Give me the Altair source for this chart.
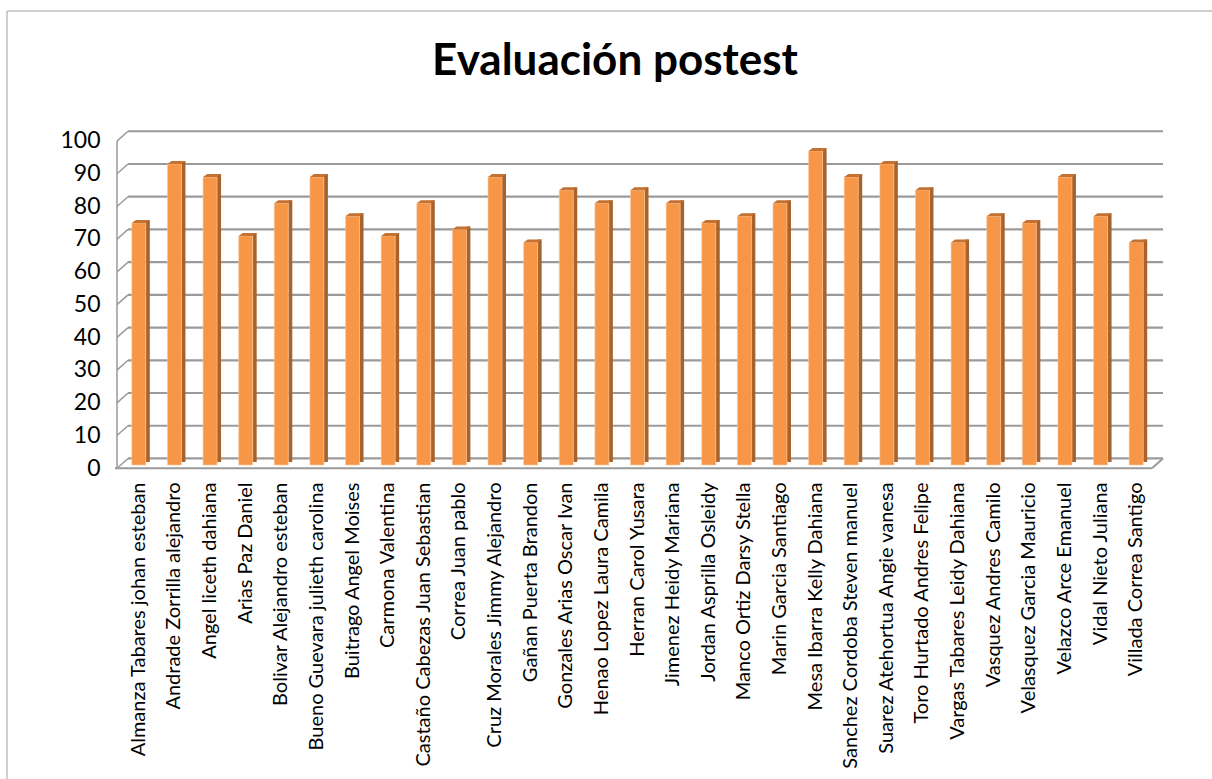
import altair as alt
import pandas as pd

title_text = "Evaluación postest"

names = [
    "Almanza Tabares johan esteban",
    "Andrade Zorrilla alejandro",
    "Angel liceth dahiana",
    "Arias Paz Daniel",
    "Bolivar Alejandro esteban",
    "Bueno Guevara julieth carolina",
    "Buitrago Angel Moises",
    "Carmona Valentina",
    "Castaño Cabezas Juan Sebastian",
    "Correa Juan pablo",
    "Cruz Morales Jimmy Alejandro",
    "Gañan Puerta Brandon",
    "Gonzales Arias Oscar Ivan",
    "Henao Lopez Laura Camila",
    "Herran Carol Yusara",
    "Jimenez Heidy Mariana",
    "Jordan Asprilla Osleidy",
    "Manco Ortiz Darsy Stella",
    "Marin Garcia Santiago",
    "Mesa Ibarra Kelly  Dahiana",
    "Sanchez Cordoba Steven manuel",
    "Suarez Atehortua Angie vanesa",
    "Toro Hurtado Andres Felipe",
    "Vargas Tabares Leidy Dahiana",
    "Vasquez Andres Camilo",
    "Velasquez Garcia Mauricio",
    "Velazco Arce Emanuel",
    "Vidal Nieto Juliana",
    "Villada Correa Santigo",
]

scores = [74, 92, 88, 70, 80, 88, 76, 70, 80, 72, 88, 68, 84, 80, 84,
          80, 74, 76, 80, 96, 88, 92, 84, 68, 76, 74, 88, 76, 68]

tick_values = [0, 10, 20, 30, 40, 50, 60, 70, 80, 90, 100]

df = pd.DataFrame({"nombre": names, "nota": scores})
grid_df = pd.DataFrame({"g": tick_values})

FONT = "Lato"
FRONT = "#F79646"
SIDE = "#A8622B"
CAP = "#C47131"
GRID = "#9A9A9A"

yscale = alt.Scale(domain=[0, 103], nice=False, zero=True)
xscale = alt.Scale(paddingInner=0.6, paddingOuter=0.3)

y_axis = alt.Axis(
    values=tick_values,
    labelFont=FONT,
    labelFontSize=23,
    labelColor="#000000",
    labelPadding=21,
    labelOffset=3,
    domain=False,
    ticks=False,
    tickSize=0,
    grid=False,
    title=None,
)

x_enc = alt.X(
    "nombre:N",
    sort=None,
    scale=xscale,
    title=None,
    axis=alt.Axis(
        labelAngle=-90,
        labelAlign="right",
        labelBaseline="middle",
        labelPadding=17,
        labelFont=FONT,
        labelFontSize=20,
        labelColor="#000000",
        labelLimit=1000,
        domain=False,
        ticks=False,
        tickSize=0,
        grid=False,
    ),
)


def yq(field):
    return alt.Y(field, type="quantitative", scale=yscale, axis=y_axis, title=None)


decor = alt.Chart(grid_df).transform_calculate(
    back="datum.g + 2", front="datum.g - 1"
)
single = alt.Chart(grid_df).transform_filter("datum.g == 0").transform_calculate(
    lo="-1", hi="99", rb="2"
)

# chart frame (left and top edges; right/bottom are cut off in the original)
frame_left = single.mark_rule(color="#BFBFBF", strokeWidth=1.5).encode(
    x=alt.value(-114), y=alt.value(-117), y2=alt.value(700)
)
frame_top = single.mark_rule(color="#BFBFBF", strokeWidth=1.5).encode(
    x=alt.value(-114), x2=alt.value(1100), y=alt.value(-117)
)
title_mark = single.mark_text(
    text=title_text,
    font=FONT,
    fontSize=44,
    fontWeight="bold",
    color="#000000",
    align="center",
    baseline="alphabetic",
).encode(x=alt.value(494), y=alt.value(-53))

# back-wall gridlines
grid_back = decor.mark_rule(color=GRID, strokeWidth=2.2).encode(
    x=alt.value(7), x2=alt.value(1042), y=yq("back")
)
# side-wall diagonals
grid_side = decor.mark_rule(color=GRID, strokeWidth=1.5).encode(
    x=alt.value(-4), x2=alt.value(7), y=yq("front"), y2=alt.Y2("back")
)
side_edge = single.mark_rule(color=GRID, strokeWidth=1.5).encode(
    x=alt.value(-4), y=yq("hi"), y2=alt.Y2("lo")
)
floor_front = single.mark_rule(color=GRID, strokeWidth=2).encode(
    x=alt.value(-6), x2=alt.value(1031), y=yq("lo")
)
floor_right = single.mark_rule(color=GRID, strokeWidth=2).encode(
    x=alt.value(1031), x2=alt.value(1042), y=yq("lo"), y2=alt.Y2("rb")
)

base = alt.Chart(df)

side = base.mark_bar(size=4, color=SIDE, xOffset=9, yOffset=-3, y2Offset=-3).encode(
    x=x_enc, y=yq("nota")
)
front = base.mark_bar(size=14, color=FRONT, stroke="#FBC9A0", strokeWidth=0.6).encode(
    x=x_enc, y=yq("nota")
)
cap = base.mark_point(
    shape="M-7,0L7,0L11,-3L-3,-3Z",
    size=4,
    filled=True,
    color=CAP,
    opacity=1,
    strokeWidth=0,
).encode(x=x_enc, y=yq("nota"))

chart = (
    alt.layer(
        frame_left, frame_top, title_mark,
        grid_back, grid_side, side_edge, floor_front, floor_right,
        side, front, cap,
    )
    .properties(
        width=1033,
        height=337,
        autosize=alt.AutoSizeParams(type="none"),
        padding={"left": 121, "top": 128, "right": 58, "bottom": 314},
        background="#FFFFFF",
    )
    .configure_view(stroke=None)
)

chart.save("out.html", embed_options={"renderer": "svg", "actions": False})
